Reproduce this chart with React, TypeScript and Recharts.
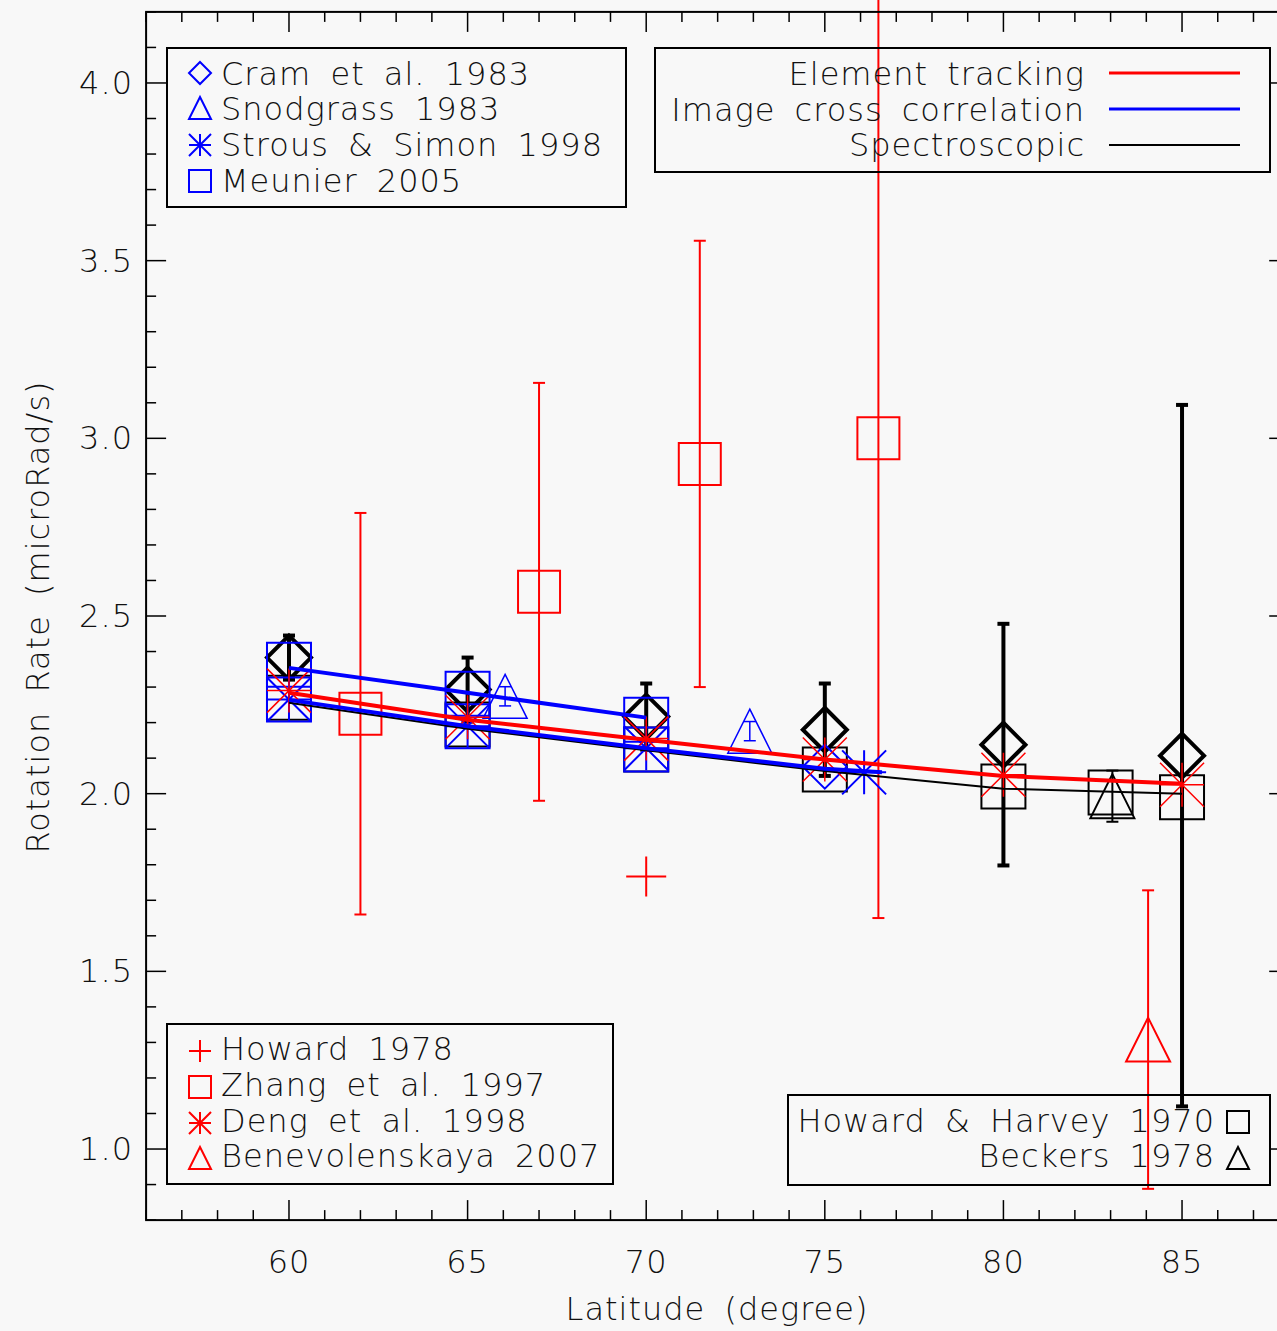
import React from 'react';
import { ComposedChart, Scatter, XAxis, YAxis, ErrorBar } from 'recharts';

const BG = '#f8f8f8';
const RED = '#ff0000';
const BLUE = '#0000ff';
const BLACK = '#000000';
const FONT = '"DejaVu Sans", Verdana, sans-serif';

// plot box in page pixels
const W = 1300;
const H = 1331;
const PLOT_LEFT = 146.1;
const PLOT_RIGHT = 1289.2;
const PLOT_TOP = 11.9;
const PLOT_BOTTOM = 1220.1;

const X_DOMAIN = [56, 88];
const Y_DOMAIN = [0.8, 4.2];
const xTickLabels = [60, 65, 70, 75, 80, 85];
const yTickLabels = ['1.0', '1.5', '2.0', '2.5', '3.0', '3.5', '4.0'];
const xMinorTicks = Array.from({ length: 33 }, (_, i) => 56 + i);
const yMinorTicks = Array.from({ length: 35 }, (_, i) => Math.round((0.8 + i * 0.1) * 10) / 10);

// black diamonds with error bars (no legend entry)
const diamondLat = [60, 65, 70, 75, 80, 85];
const diamondRate = [2.383, 2.293, 2.217, 2.18, 2.138, 2.107];
const diamondErr = [0.062, 0.09, 0.093, 0.13, 0.34, 0.987];

// spectroscopic
const harveyLat = [60, 65, 70, 75, 80, 83, 85];
const harveyRate = [2.27, 2.195, 2.124, 2.068, 2.02, 2.003, 1.99];
const beckersLat = [83.05];
const beckersRate = [1.993];
const beckersErr = [0.072];

// image cross correlation (blue)
const cramLat = [75];
const cramRate = [2.076];
const snodgrassLat = [66.05, 72.9];
const snodgrassRate = [2.274, 2.176];
const snodgrassErr = [0.027, 0.027];
const strousLat = [60, 65, 70, 76.1];
const strousRate = [2.265, 2.19, 2.128, 2.06];
const meunierLat = [60, 60, 65, 65, 70, 70];
const meunierRate = [2.363, 2.265, 2.281, 2.19, 2.208, 2.124];

// element tracking (red)
const howardLat = [70];
const howardRate = [1.767];
const zhangLat = [62, 67, 71.5, 76.5];
const zhangRate = [2.225, 2.568, 2.928, 3.0];
const zhangErr = [0.565, 0.588, 0.628, 1.35];
const dengLat = [60, 65, 70, 75, 80, 85];
const dengRate = [2.29, 2.215, 2.155, 2.096, 2.053, 2.025];
const beneLat = [84.05];
const beneRate = [1.308];
const beneErr = [0.42];

// fitted curves
const elementFitLat = [60, 65, 70, 75, 80, 85];
const elementFitRate = [2.284, 2.208, 2.152, 2.096, 2.05, 2.028];
const imageFitALat = [60, 65, 70];
const imageFitARate = [2.354, 2.284, 2.214];
const imageFitBLat = [60, 65, 70, 75, 76.6];
const imageFitBRate = [2.264, 2.19, 2.128, 2.07, 2.06];
const spectroFitLat = [60, 65, 70, 75, 80, 85];
const spectroFitRate = [2.256, 2.183, 2.122, 2.064, 2.014, 2.0];

const pts = (xs: number[], ys: number[], errs?: number[]) =>
  xs.map((x, i) => ({ x, y: ys[i], err: errs ? errs[i] : 0 }));

// marker paths
const diamondPath = (cx: number, cy: number, s: number) =>
  `M${cx},${cy - s}L${cx + s},${cy}L${cx},${cy + s}L${cx - s},${cy}Z`;
const trianglePath = (cx: number, cy: number, s: number) =>
  `M${cx},${cy - s}L${cx + s},${cy + s}L${cx - s},${cy + s}Z`;
const squarePath = (cx: number, cy: number, s: number) =>
  `M${cx - s},${cy - s}H${cx + s}V${cy + s}H${cx - s}Z`;
const asteriskPath = (cx: number, cy: number, s: number) =>
  `M${cx},${cy - s}V${cy + s}M${cx - s},${cy}H${cx + s}M${cx - s},${cy - s}L${cx + s},${cy + s}M${cx + s},${cy - s}L${cx - s},${cy + s}`;
const plusPath = (cx: number, cy: number, s: number) =>
  `M${cx},${cy - s}V${cy + s}M${cx - s},${cy}H${cx + s}`;

type PathFn = (cx: number, cy: number, s: number) => string;

const marker = (fn: PathFn, color: string, s: number, sw: number) => (props: any) => {
  const { cx, cy } = props;
  if (cx == null || cy == null) return <g />;
  return <path d={fn(cx, cy, s)} fill="none" stroke={color} strokeWidth={sw} />;
};

const noDot = () => <g />;

const textStyle = {
  fontFamily: FONT,
  fontSize: 32,
  fontWeight: 200,
  letterSpacing: 1,
  wordSpacing: 8,
  fill: '#111',
} as const;

const renderXTick = (props: any) => {
  const { x, payload } = props;
  const v = payload.value;
  const major = xTickLabels.includes(v);
  const len = major ? 20 : 10;
  return (
    <g>
      <line x1={x} x2={x} y1={PLOT_BOTTOM} y2={PLOT_BOTTOM - len} stroke={BLACK} strokeWidth={1.5} />
      <line x1={x} x2={x} y1={PLOT_TOP} y2={PLOT_TOP + len} stroke={BLACK} strokeWidth={1.5} />
      {major && (
        <text x={x} y={1273} textAnchor="middle" style={textStyle}>
          {v}
        </text>
      )}
    </g>
  );
};

const renderYTick = (props: any) => {
  const { y, payload } = props;
  const v = payload.value;
  const label = yTickLabels.find((l) => Math.abs(parseFloat(l) - v) < 1e-6);
  const len = label ? 20 : 10;
  return (
    <g>
      <line x1={PLOT_LEFT} x2={PLOT_LEFT + len} y1={y} y2={y} stroke={BLACK} strokeWidth={1.5} />
      <line x1={PLOT_RIGHT - len} x2={PLOT_RIGHT} y1={y} y2={y} stroke={BLACK} strokeWidth={1.5} />
      {label && (
        <text x={133} y={y + 11} textAnchor="end" style={textStyle}>
          {label}
        </text>
      )}
    </g>
  );
};

function LegendRow({ x, y, sym, color, label, anchor = 'start' }: any) {
  return (
    <g>
      <path d={sym} fill="none" stroke={color} strokeWidth={2} />
      <text x={x} y={y} textAnchor={anchor} style={textStyle}>
        {label}
      </text>
    </g>
  );
}

function Overlay() {
  return (
    <svg
      width={1277}
      height={1331}
      style={{ position: 'absolute', left: 0, top: 0, pointerEvents: 'none' }}
    >
      <rect
        x={PLOT_LEFT}
        y={PLOT_TOP}
        width={PLOT_RIGHT - PLOT_LEFT}
        height={PLOT_BOTTOM - PLOT_TOP}
        fill="none"
        stroke={BLACK}
        strokeWidth={2}
      />

      {/* top-left legend: image cross correlation sources */}
      <rect x={167} y={48} width={459} height={159} fill="none" stroke={BLACK} strokeWidth={2} />
      <LegendRow x={221} y={85} sym={diamondPath(200, 73, 11)} color={BLUE} label="Cram et al. 1983" />
      <LegendRow x={221} y={120} sym={trianglePath(200, 108, 11)} color={BLUE} label="Snodgrass 1983" />
      <LegendRow x={221} y={156} sym={asteriskPath(200, 145, 11)} color={BLUE} label="Strous & Simon 1998" />
      <LegendRow x={221} y={192} sym={squarePath(200, 181, 11)} color={BLUE} label="Meunier 2005" />

      {/* top-right legend: method lines */}
      <rect x={655} y={48} width={615} height={124} fill="none" stroke={BLACK} strokeWidth={2} />
      <text x={1085} y={85} textAnchor="end" style={textStyle}>Element tracking</text>
      <text x={1085} y={121} textAnchor="end" style={textStyle}>Image cross correlation</text>
      <text x={1085} y={156} textAnchor="end" style={textStyle}>Spectroscopic</text>
      <line x1={1109} x2={1240} y1={73} y2={73} stroke={RED} strokeWidth={3} />
      <line x1={1109} x2={1240} y1={109} y2={109} stroke={BLUE} strokeWidth={3} />
      <line x1={1109} x2={1240} y1={145} y2={145} stroke={BLACK} strokeWidth={2} />

      {/* bottom-left legend: element tracking sources */}
      <rect x={167} y={1024} width={446} height={160} fill="none" stroke={BLACK} strokeWidth={2} />
      <LegendRow x={221} y={1060} sym={plusPath(200, 1051, 11)} color={RED} label="Howard 1978" />
      <LegendRow x={221} y={1096} sym={squarePath(200, 1087, 11)} color={RED} label="Zhang et al. 1997" />
      <LegendRow x={221} y={1132} sym={asteriskPath(200, 1123, 11)} color={RED} label="Deng et al. 1998" />
      <LegendRow x={221} y={1167} sym={trianglePath(200, 1158, 11)} color={RED} label="Benevolenskaya 2007" />

      {/* bottom-right legend: spectroscopic sources */}
      <rect x={788} y={1095} width={482} height={90} fill="none" stroke={BLACK} strokeWidth={2} />
      <LegendRow x={1215} y={1132} anchor="end" sym={squarePath(1238, 1122, 11)} color={BLACK} label="Howard & Harvey 1970" />
      <LegendRow x={1215} y={1167} anchor="end" sym={trianglePath(1238, 1158, 11)} color={BLACK} label="Beckers 1978" />

      <text x={717} y={1320} textAnchor="middle" style={textStyle}>Latitude (degree)</text>
      <text
        x={0}
        y={0}
        transform="translate(49,617) rotate(-90)"
        textAnchor="middle"
        style={textStyle}
      >
        Rotation Rate (microRad/s)
      </text>
    </svg>
  );
}

export default function App() {
  return (
    <div
      style={{
        position: 'absolute',
        left: 0,
        top: 0,
        width: 1277,
        height: 1331,
        overflow: 'hidden',
        background: BG,
      }}
    >
      <ComposedChart
        width={W}
        height={H}
        margin={{ top: PLOT_TOP, right: W - PLOT_RIGHT, bottom: H - PLOT_BOTTOM - 60, left: PLOT_LEFT - 100 }}
      >
        <XAxis
          type="number"
          dataKey="x"
          domain={X_DOMAIN}
          allowDataOverflow
          ticks={xMinorTicks}
          interval={0}
          tick={renderXTick}
          tickLine={false}
          axisLine={false}
          height={60}
        />
        <YAxis
          type="number"
          dataKey="y"
          domain={Y_DOMAIN}
          allowDataOverflow
          ticks={yMinorTicks}
          interval={0}
          tick={renderYTick}
          tickLine={false}
          axisLine={false}
          width={100}
        />

        <Scatter data={pts(diamondLat, diamondRate, diamondErr)} shape={marker(diamondPath, BLACK, 22, 4)} isAnimationActive={false}>
          <ErrorBar dataKey="err" direction="y" width={6} stroke={BLACK} strokeWidth={4} />
        </Scatter>
        <Scatter data={pts(harveyLat, harveyRate)} shape={marker(squarePath, BLACK, 22, 2)} isAnimationActive={false} />
        <Scatter data={pts(beckersLat, beckersRate, beckersErr)} shape={marker(trianglePath, BLACK, 22, 2)} isAnimationActive={false}>
          <ErrorBar dataKey="err" direction="y" width={6} stroke={BLACK} strokeWidth={2} />
        </Scatter>

        <Scatter data={pts(meunierLat, meunierRate)} shape={marker(squarePath, BLUE, 22, 2)} isAnimationActive={false} />
        <Scatter data={pts(cramLat, cramRate)} shape={marker(diamondPath, BLUE, 22, 2)} isAnimationActive={false} />
        <Scatter data={pts(snodgrassLat, snodgrassRate, snodgrassErr)} shape={marker(trianglePath, BLUE, 22, 1.5)} isAnimationActive={false}>
          <ErrorBar dataKey="err" direction="y" width={6} stroke={BLUE} strokeWidth={1.5} />
        </Scatter>
        <Scatter data={pts(strousLat, strousRate)} shape={marker(asteriskPath, BLUE, 22, 2)} isAnimationActive={false} />

        <Scatter data={pts(dengLat, dengRate)} shape={marker(asteriskPath, RED, 22, 1.5)} isAnimationActive={false} />
        <Scatter data={pts(howardLat, howardRate)} shape={marker(plusPath, RED, 20, 2)} isAnimationActive={false} />
        <Scatter data={pts(zhangLat, zhangRate, zhangErr)} shape={marker(squarePath, RED, 21, 2)} isAnimationActive={false}>
          <ErrorBar dataKey="err" direction="y" width={6} stroke={RED} strokeWidth={2} />
        </Scatter>
        <Scatter data={pts(beneLat, beneRate, beneErr)} shape={marker(trianglePath, RED, 22, 2)} isAnimationActive={false}>
          <ErrorBar dataKey="err" direction="y" width={6} stroke={RED} strokeWidth={2} />
        </Scatter>

        <Scatter data={pts(spectroFitLat, spectroFitRate)} line={{ stroke: BLACK, strokeWidth: 2 }} shape={noDot} isAnimationActive={false} />
        <Scatter data={pts(imageFitBLat, imageFitBRate)} line={{ stroke: BLUE, strokeWidth: 4 }} shape={noDot} isAnimationActive={false} />
        <Scatter data={pts(imageFitALat, imageFitARate)} line={{ stroke: BLUE, strokeWidth: 4 }} shape={noDot} isAnimationActive={false} />
        <Scatter data={pts(elementFitLat, elementFitRate)} line={{ stroke: RED, strokeWidth: 4 }} shape={noDot} isAnimationActive={false} />
      </ComposedChart>
      <Overlay />
    </div>
  );
}
